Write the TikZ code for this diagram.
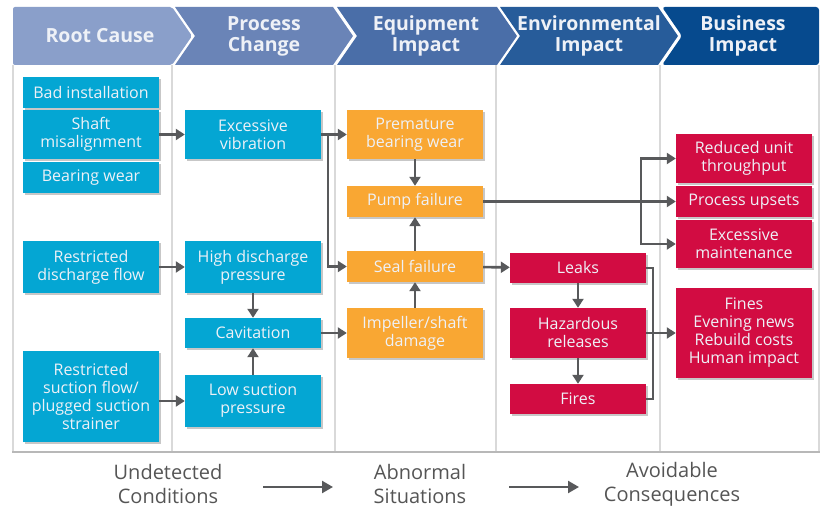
\documentclass[tikz,border=0pt]{standalone}
\usepackage{fontspec}
\setmainfont{Open Sans}
\usetikzlibrary{arrows.meta,shadows}
\definecolor{hA}{HTML}{8A9FCA}
\definecolor{hB}{HTML}{6A84B7}
\definecolor{hC}{HTML}{4A6EA8}
\definecolor{hD}{HTML}{275C9A}
\definecolor{hE}{HTML}{064A8E}
\definecolor{cblue}{HTML}{04A6D3}
\definecolor{corange}{HTML}{F9A733}
\definecolor{cred}{HTML}{D20C42}
\definecolor{arrowgray}{HTML}{58595B}
\definecolor{gridgray}{HTML}{D9D9D9}
\definecolor{htext}{HTML}{EEF1F7}
\definecolor{btext}{HTML}{555555}
\tikzset{
  cbox/.style={rectangle, inner sep=1pt, align=center, minimum width=136,
    font=\fontsize{16}{18}\selectfont, text=htext,
    drop shadow={shadow xshift=2pt, shadow yshift=-2.5pt, fill=black, opacity=0.22}},
  bluebox/.style={cbox, fill=cblue},
  orangebox/.style={cbox, fill=corange},
  redbox/.style={cbox, fill=cred},
  conn/.style={draw=arrowgray, line width=2.6pt},
  arr/.style={conn, -{Triangle[length=9pt,width=11pt]}},
  hdr/.style={font=\fontsize{19.5}{21}\selectfont\bfseries, text=htext, align=center},
  grid/.style={draw=gridgray, line width=1.5pt},
  btxt/.style={font=\fontsize{20}{24}\selectfont, text=btext, align=center},
  barr/.style={draw=arrowgray, line width=2.4pt, -{Triangle[length=11pt,width=12pt]}}
}
\begin{document}
\begin{tikzpicture}[x=1pt,y=-1pt]
\useasboundingbox (0,0) rectangle (823,510);
% grid
\foreach \gx in {13,172,335,496,660,819} \draw[grid] (\gx,65) -- (\gx,452);
\draw[draw=gridgray!85!black, line width=2pt] (12,452) -- (820,452);
% header chevrons
\fill[hA, rounded corners=2pt] (13,7) -- (172,7) -- (192,36) -- (172,65) -- (13,65) -- cycle;
\fill[hB] (175,7) -- (333,7) -- (353,36) -- (333,65) -- (175,65) -- (195,36) -- cycle;
\fill[hC] (337,7) -- (497,7) -- (517,36) -- (497,65) -- (337,65) -- (357,36) -- cycle;
\fill[hD] (500,7) -- (658,7) -- (678,36) -- (658,65) -- (500,65) -- (520,36) -- cycle;
\fill[hE, rounded corners=3pt] (662,7) -- (819,7) -- (819,65) -- (662,65) -- (682,36) -- cycle;
\node[hdr] (h1) at (100,36) {Root Cause};
\node[hdr] (h2) at (264,36) {Process\\Change};
\node[hdr] (h3) at (426,36) {Equipment\\Impact};
\node[hdr] (h4) at (589,36) {Environmental\\Impact};
\node[hdr] (h5) at (743,36) {Business\\Impact};
% blue boxes
\node[bluebox, minimum height=31] (bad) at (91,92.5) {Bad installation};
\node[bluebox, minimum height=49] (shaft) at (91,134.5) {Shaft\\misalignment};
\node[bluebox, minimum height=31] (bear) at (91,177.5) {Bearing wear};
\node[bluebox, minimum height=52] (rdf) at (91,267) {Restricted\\discharge flow};
\node[bluebox, minimum height=91] (rsf) at (91,396.5) {Restricted\\suction flow/\\plugged suction\\strainer};
\node[bluebox, minimum height=49] (exv) at (253,134.5) {Excessive\\vibration};
\node[bluebox, minimum height=52] (hdp) at (253,267) {High discharge\\pressure};
\node[bluebox, minimum height=30] (cav) at (253,333) {Cavitation};
\node[bluebox, minimum height=52] (lsp) at (253,401) {Low suction\\pressure};
% orange boxes
\node[orangebox, minimum height=49] (pbw) at (415,134.5) {Premature\\bearing wear};
\node[orangebox, minimum height=31] (pf) at (415,201.5) {Pump failure};
\node[orangebox, minimum height=31] (sf) at (415,266.5) {Seal failure};
\node[orangebox, minimum height=50] (isd) at (415,333) {Impeller/shaft\\damage};
% red boxes
\node[redbox, minimum height=30] (leaks) at (578,268) {Leaks};
\node[redbox, minimum height=50] (haz) at (578,333) {Hazardous\\releases};
\node[redbox, minimum height=30] (fires) at (578,399) {Fires};
\node[redbox, minimum height=49] (rut) at (744,158.5) {Reduced unit\\throughput};
\node[redbox, minimum height=31] (pu) at (744,201.5) {Process upsets};
\node[redbox, minimum height=48] (em) at (744,244) {Excessive\\maintenance};
\node[redbox, minimum height=90] (fines) at (744,333) {Fines\\Evening news\\Rebuild costs\\Human impact};
% connectors
\draw[arr] (shaft) -- (exv);
\draw[arr] (rdf) -- (hdp);
\draw[arr] (rsf.east |- lsp.west) -- (lsp.west);
\draw[arr] (hdp) -- (cav);
\draw[arr] (lsp) -- (cav);
\draw[arr] (cav) -- (isd);
\coordinate (j1) at (328,134.5);
\draw[arr] (exv) -- (pbw);
\draw[arr] (j1) |- (sf.west);
\draw[arr] (pbw) -- (pf);
\draw[arr] (sf) -- (pf);
\draw[arr] (isd) -- (sf);
\draw[arr] (sf) -- (leaks);
\draw[arr] (pf) -- (pu);
\coordinate (j2) at (641,201.5);
\draw[arr] (j2) |- (rut.west);
\draw[arr] (j2) |- (em.west);
\draw[arr] (leaks) -- (haz);
\draw[arr] (haz) -- (fires);
\coordinate (j3) at (653,268);
\draw[conn] (leaks.east) -- (j3) |- (fires.east);
\draw[arr] (haz) -- (fines);
% bottom
\node[btxt] (u) at (168,484) {Undetected\\Conditions};
\node[btxt] (a) at (420,484) {Abnormal\\Situations};
\node[btxt] (c) at (672,484) {Avoidable\\Consequences};
\coordinate (b1) at (263,487);
\coordinate (b2) at (333,487);
\coordinate (b3) at (509,487);
\coordinate (b4) at (579,487);
\draw[barr] (b1) -- (b2);
\draw[barr] (b3) -- (b4);
\end{tikzpicture}
\end{document}
